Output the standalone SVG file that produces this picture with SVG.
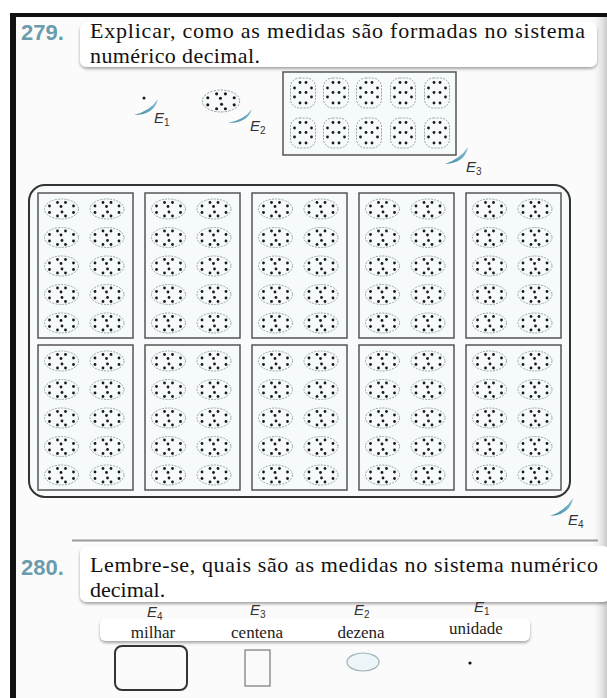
<svg xmlns="http://www.w3.org/2000/svg" xmlns:xlink="http://www.w3.org/1999/xlink" width="607" height="698" viewBox="0 0 607 698">
<style>
.num{font-family:"Liberation Sans",Arial,sans-serif;font-weight:bold;font-size:22px;fill:#6b9cad}
.qt{font-family:"Liberation Serif","Times New Roman",serif;font-size:22px;fill:#111}
.lab{font-family:"Liberation Sans",Arial,sans-serif;font-style:italic;font-size:15px;fill:#333}
.sub{font-size:10px;font-style:normal}
.word{font-family:"Liberation Serif","Times New Roman",serif;font-size:17px;fill:#222;text-anchor:middle}
.cres{fill:url(#cg)}
.ov{fill:#f7fafb;stroke:#8b9a9f;stroke-width:0.9;stroke-dasharray:2 1.2}
.dt{fill:#1a1a1a}
.panel{fill:#f6fafb;stroke:#555;stroke-width:1.5}
</style>
<defs>
<linearGradient id="cg" x1="0" y1="1" x2="1" y2="0">
<stop offset="0" stop-color="#3f8aa5"/><stop offset="1" stop-color="#8cc3d4"/>
</linearGradient>
<linearGradient id="edge" x1="0" y1="0" x2="1" y2="0">
<stop offset="0" stop-color="#ffffff" stop-opacity="0"/><stop offset="1" stop-color="#c9c9c9"/>
</linearGradient>
<filter id="sh" x="-5%" y="-30%" width="110%" height="170%">
<feDropShadow dx="0" dy="2" stdDeviation="1.5" flood-color="#000" flood-opacity="0.35"/>
</filter>
<g id="dz">
<ellipse class="ov" rx="17" ry="10"/>
<circle class="dt" cx="-4" cy="-6.5" r="1.4"/><circle class="dt" cx="4" cy="-6.5" r="1.4"/>
<circle class="dt" cx="-12" cy="-3" r="1.4"/><circle class="dt" cx="-12" cy="3.5" r="1.4"/>
<circle class="dt" cx="-0.5" cy="-2.5" r="1.4"/><circle class="dt" cx="0.5" cy="3" r="1.4"/>
<circle class="dt" cx="12" cy="-3" r="1.4"/><circle class="dt" cx="12" cy="3.5" r="1.4"/>
<circle class="dt" cx="-4" cy="7" r="1.4"/><circle class="dt" cx="4" cy="7" r="1.4"/>
</g>
<g id="ct">
<rect class="ov" x="-12.5" y="-15" width="25" height="30" rx="9"/>
<circle class="dt" cx="-3" cy="-10.5" r="1.4"/><circle class="dt" cx="3" cy="-10.5" r="1.4"/>
<circle class="dt" cx="-8.5" cy="-5" r="1.4"/><circle class="dt" cx="-8.5" cy="4" r="1.4"/>
<circle class="dt" cx="-3" cy="-0.5" r="1.4"/><circle class="dt" cx="3" cy="-0.5" r="1.4"/>
<circle class="dt" cx="8.5" cy="-5" r="1.4"/><circle class="dt" cx="8.5" cy="4" r="1.4"/>
<circle class="dt" cx="-3" cy="10" r="1.4"/><circle class="dt" cx="3" cy="10" r="1.4"/>
</g>
<g id="blk">
<rect class="panel" x="0" y="0" width="95" height="145"/>
<use xlink:href="#dz" x="23.5" y="16"/><use xlink:href="#dz" x="69" y="16"/>
<use xlink:href="#dz" x="23.5" y="44.5"/><use xlink:href="#dz" x="69" y="44.5"/>
<use xlink:href="#dz" x="23.5" y="73"/><use xlink:href="#dz" x="69" y="73"/>
<use xlink:href="#dz" x="23.5" y="101.5"/><use xlink:href="#dz" x="69" y="101.5"/>
<use xlink:href="#dz" x="23.5" y="130"/><use xlink:href="#dz" x="69" y="130"/>
</g>
</defs>

<rect x="0" y="0" width="607" height="698" fill="#ffffff"/>
<rect x="16" y="17" width="591" height="681" fill="#fbfbfb"/>
<rect x="590" y="17" width="17" height="681" fill="url(#edge)"/>
<rect x="10" y="13" width="597" height="4" fill="#111"/>
<rect x="10" y="13" width="6" height="685" fill="#111"/>

<g id="q279">
<rect x="80" y="22" width="517" height="45" rx="7" fill="#fff" filter="url(#sh)"/>
<text class="num" x="21" y="40">279.</text>
<text class="qt" x="90" y="38" textLength="495" lengthAdjust="spacing">Explicar, como as medidas são formadas no sistema</text>
<text class="qt" x="90" y="63" textLength="170" lengthAdjust="spacing">numérico decimal.</text>
</g>

<g id="E1">
<circle class="dt" cx="144" cy="98" r="1.5"/>
<path class="cres" d="M134,115 Q154,115 158,99 Q150,111 134,115 Z"/>
<text class="lab" x="154" y="123">E<tspan class="sub" dy="3">1</tspan></text>
</g>

<g id="E2">
<use xlink:href="#dz" transform="translate(221,101) scale(1.1)"/>
<path class="cres" d="M228,123 Q248,123 252,109 Q244,120 228,123 Z"/>
<text class="lab" x="250" y="131">E<tspan class="sub" dy="3">2</tspan></text>
</g>

<g id="E3">
<rect class="panel" x="283" y="72" width="173" height="83"/>
<use xlink:href="#ct" x="303" y="93"/><use xlink:href="#ct" x="336" y="93"/><use xlink:href="#ct" x="369" y="93"/><use xlink:href="#ct" x="403" y="93"/><use xlink:href="#ct" x="437" y="93"/>
<use xlink:href="#ct" x="303" y="133"/><use xlink:href="#ct" x="336" y="133"/><use xlink:href="#ct" x="369" y="133"/><use xlink:href="#ct" x="403" y="133"/><use xlink:href="#ct" x="437" y="133"/>
<path class="cres" d="M445,164 Q465,163 468,147 Q460,159 445,164 Z"/>
<text class="lab" x="466" y="172">E<tspan class="sub" dy="3">3</tspan></text>
</g>

<g id="E4">
<rect x="29" y="185" width="541" height="312" rx="16" fill="#f8fbfb" stroke="#333" stroke-width="2"/>
<use xlink:href="#blk" x="38" y="193"/><use xlink:href="#blk" x="145" y="193"/><use xlink:href="#blk" x="252" y="193"/><use xlink:href="#blk" x="359" y="193"/><use xlink:href="#blk" x="466" y="193"/>
<use xlink:href="#blk" x="38" y="345"/><use xlink:href="#blk" x="145" y="345"/><use xlink:href="#blk" x="252" y="345"/><use xlink:href="#blk" x="359" y="345"/><use xlink:href="#blk" x="466" y="345"/>
<path class="cres" d="M550,516 Q570,515 573,498 Q565,511 550,516 Z"/>
<text class="lab" x="568" y="525">E<tspan class="sub" dy="3">4</tspan></text>
</g>

<g id="connectors"></g>

<line x1="72" y1="540.5" x2="598" y2="540.5" stroke="#9a9a9a" stroke-width="2"/>

<g id="q280">
<rect x="80" y="546" width="530" height="56" rx="7" fill="#fff" filter="url(#sh)"/>
<text class="num" x="21" y="575">280.</text>
<text class="qt" x="90" y="572" textLength="508" lengthAdjust="spacing">Lembre-se, quais são as medidas no sistema numérico</text>
<text class="qt" x="90" y="597">decimal.</text>
</g>

<g id="legend">
<rect x="100" y="618" width="430" height="23" rx="6" fill="#fff" filter="url(#sh)"/>
<text class="lab" x="147" y="617">E<tspan class="sub" dy="3">4</tspan></text>
<text class="lab" x="250" y="615">E<tspan class="sub" dy="3">3</tspan></text>
<text class="lab" x="354" y="615">E<tspan class="sub" dy="3">2</tspan></text>
<text class="lab" x="474" y="612">E<tspan class="sub" dy="3">1</tspan></text>
<text class="word" x="153" y="638">milhar</text>
<text class="word" x="257" y="638">centena</text>
<text class="word" x="361" y="638">dezena</text>
<text class="word" x="476" y="634">unidade</text>
</g>

<g id="milhar"><rect x="115" y="646" width="72" height="44" rx="7" fill="none" stroke="#333" stroke-width="2"/></g>
<g id="centena"><rect x="245" y="650" width="25" height="36" fill="#fafafa" stroke="#777" stroke-width="1.2"/></g>
<g id="dezena"><ellipse cx="363" cy="662" rx="16" ry="9" fill="#eef5f8" stroke="#9fb3bb" stroke-width="1.2"/></g>
<g id="unidade"><circle cx="470" cy="663" r="1.6" fill="#111"/></g>
</svg>
